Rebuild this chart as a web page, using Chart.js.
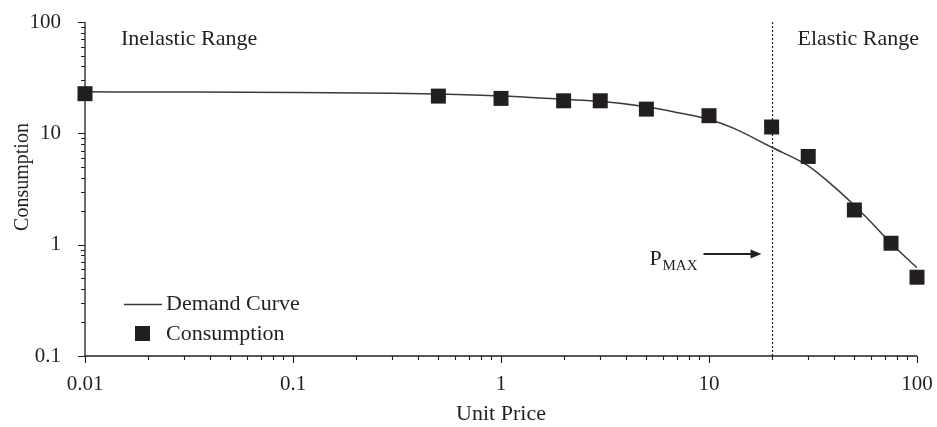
<!DOCTYPE html>
<html>
<head>
<meta charset="utf-8">
<script src="https://cdn.jsdelivr.net/npm/chart.js@4/dist/chart.umd.min.js"></script>
<style>
  html, body { margin: 0; padding: 0; background: #fff; }
  #wrap { width: 937px; height: 427px; }
</style>
</head>
<body>
<div id="wrap"><canvas id="chart" width="937" height="427"></canvas></div>
<script>
// Observed consumption at each unit price
const unitPrices = [0.01, 0.5, 1, 2, 3, 5, 10, 20, 30, 50, 75, 100];
const consumption = [22.7, 21.6, 20.6, 19.6, 19.6, 16.5, 14.4, 11.4, 6.2, 2.05, 1.03, 0.51];

// Fitted demand curve
const curvePrices = [0.01, 0.03, 0.1, 0.3, 0.5, 1, 2, 3, 5, 7, 10, 13, 20, 30, 40, 50, 60, 75, 100];
const curveConsumption = [23.6, 23.5, 23.3, 22.9, 22.5, 21.6, 20.2, 19.4, 17.3, 15.4, 13.3, 11.2, 7.5, 5.1, 3.3, 2.25, 1.6, 1.03, 0.62];

// Price at which expenditure peaks
const pMax = 20;

// Axis tick labels (decades)
const xTickLabels = ['0.01', '0.1', '1', '10', '100'];
const yTickLabels = ['0.1', '1', '10', '100'];

const INK = '#231f20';
const SERIF = '"Liberation Serif", "Times New Roman", serif';

// Decade ticks plus the 2..9 minor ticks in between
function logTicks(labels) {
  const decades = labels.map(Number);
  const out = [];
  decades.forEach((d, i) => {
    out.push({ value: d, major: true });
    if (i < decades.length - 1) {
      for (let m = 2; m <= 9; m++) out.push({ value: d * m, major: false });
    }
  });
  return out;
}
function labelFor(labels, value) {
  const hit = labels.find(l => Math.abs(Number(l) - value) / value < 1e-6);
  return hit === undefined ? '' : hit;
}

const overlay = {
  id: 'overlay',
  beforeDatasetsDraw(chart) {
    const { ctx, chartArea: a, scales: { x, y } } = chart;
    ctx.save();
    ctx.strokeStyle = INK;
    ctx.lineWidth = 1.3;
    ctx.beginPath();
    ctx.moveTo(a.left, a.top);
    ctx.lineTo(a.left, a.bottom);
    ctx.lineTo(a.right, a.bottom);
    ctx.stroke();

    ctx.lineWidth = 1.1;
    ctx.beginPath();
    x.ticks.forEach(t => {
      const px = Math.round(x.getPixelForValue(t.value)) + 0.5;
      ctx.moveTo(px, a.bottom);
      ctx.lineTo(px, a.bottom + (t.major ? 7 : 4));
    });
    y.ticks.forEach(t => {
      const py = Math.round(y.getPixelForValue(t.value)) + 0.5;
      ctx.moveTo(a.left, py);
      ctx.lineTo(a.left - (t.major ? 7 : 4), py);
    });
    ctx.stroke();

    // P_MAX divider
    const xp = Math.round(x.getPixelForValue(pMax)) + 0.5;
    ctx.setLineDash([2, 2]);
    ctx.lineWidth = 1.2;
    ctx.beginPath();
    ctx.moveTo(xp, a.top);
    ctx.lineTo(xp, a.bottom);
    ctx.stroke();
    ctx.setLineDash([]);

    // P_MAX label and arrow
    ctx.fillStyle = INK;
    ctx.textBaseline = 'alphabetic';
    ctx.textAlign = 'left';
    ctx.font = '22px ' + SERIF;
    ctx.fillText('P', xp - 123, 265);
    ctx.font = '15px ' + SERIF;
    ctx.fillText('MAX', xp - 110, 270);
    const ay = 254;
    ctx.lineWidth = 2;
    ctx.beginPath();
    ctx.moveTo(xp - 69, ay);
    ctx.lineTo(xp - 20, ay);
    ctx.stroke();
    ctx.beginPath();
    ctx.moveTo(xp - 11, ay);
    ctx.lineTo(xp - 22, ay - 4.5);
    ctx.lineTo(xp - 22, ay + 4.5);
    ctx.closePath();
    ctx.fill();

    // Range labels
    ctx.font = '22px ' + SERIF;
    ctx.fillText('Inelastic Range', a.left + 36, 45);
    ctx.fillText('Elastic Range', xp + 25, 45);

    // Axis titles
    ctx.textAlign = 'center';
    ctx.fillText('Unit Price', (a.left + a.right) / 2, 420);
    ctx.save();
    ctx.translate(23, 177);
    ctx.rotate(-Math.PI / 2);
    ctx.textBaseline = 'middle';
    ctx.font = '20px ' + SERIF;
    ctx.fillText('Consumption', 0, 0);
    ctx.restore();
    ctx.restore();
  },
  afterDatasetsDraw(chart) {
    // Legend
    const { ctx } = chart;
    const curve = chart.data.datasets[1];
    const pts = chart.data.datasets[0];
    ctx.save();
    ctx.strokeStyle = curve.borderColor;
    ctx.lineWidth = curve.borderWidth;
    ctx.beginPath();
    ctx.moveTo(124, 304.5);
    ctx.lineTo(162, 304.5);
    ctx.stroke();
    ctx.fillStyle = pts.backgroundColor;
    ctx.fillRect(135, 326, 15, 15);
    ctx.fillStyle = INK;
    ctx.font = '22px ' + SERIF;
    ctx.textAlign = 'left';
    ctx.textBaseline = 'middle';
    ctx.fillText(curve.label, 166, 304);
    ctx.fillText(pts.label, 166, 334);
    ctx.restore();
  }
};

new Chart(document.getElementById('chart'), {
  data: {
    datasets: [
      {
        type: 'scatter',
        label: 'Consumption',
        data: unitPrices.map((p, i) => ({ x: p, y: consumption[i] })),
        pointStyle: 'rect',
        pointRadius: 10.6,
        pointHoverRadius: 10.6,
        backgroundColor: INK,
        borderWidth: 0,
        clip: false
      },
      {
        type: 'line',
        label: 'Demand Curve',
        data: curvePrices.map((p, i) => ({ x: p, y: curveConsumption[i] })),
        borderColor: '#3a3a3a',
        borderWidth: 1.5,
        pointRadius: 0,
        cubicInterpolationMode: 'monotone',
        fill: false
      }
    ]
  },
  options: {
    responsive: false,
    animation: false,
    events: [],
    layout: { padding: { top: 22, right: 20, left: 0, bottom: 0 } },
    plugins: { legend: { display: false }, tooltip: { enabled: false } },
    scales: {
      x: {
        type: 'logarithmic',
        min: 0.01,
        max: 100,
        afterBuildTicks: s => { s.ticks = logTicks(xTickLabels); },
        afterFit: s => { s.height = 71; s.paddingLeft = 0; s.paddingRight = 0; },
        grid: { display: false },
        border: { display: false },
        ticks: {
          autoSkip: false,
          maxRotation: 0,
          padding: 8,
          color: INK,
          font: { family: SERIF, size: 21 },
          callback: v => labelFor(xTickLabels, v)
        }
      },
      y: {
        type: 'logarithmic',
        min: 0.1,
        max: 100,
        afterBuildTicks: s => { s.ticks = logTicks(yTickLabels); },
        afterFit: s => { s.width = 85; s.paddingTop = 0; s.paddingBottom = 0; },
        grid: { display: false },
        border: { display: false },
        ticks: {
          autoSkip: false,
          padding: 16,
          color: INK,
          font: { family: SERIF, size: 21 },
          callback: v => labelFor(yTickLabels, v)
        }
      }
    }
  },
  plugins: [overlay]
});
</script>
</body>
</html>
